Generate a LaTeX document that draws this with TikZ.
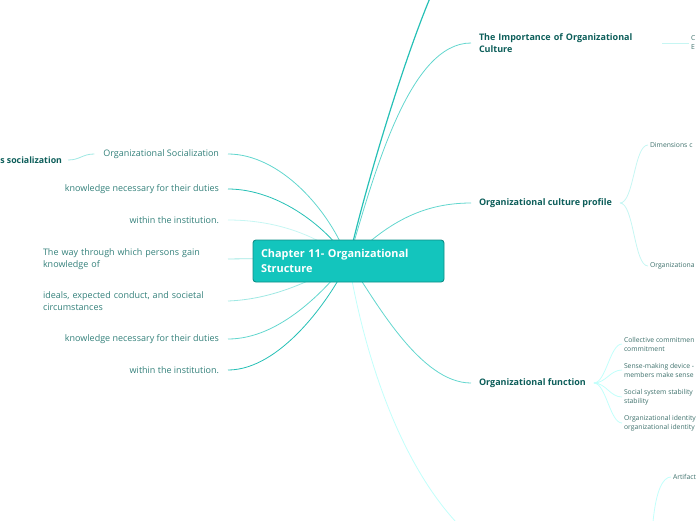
\documentclass[tikz,border=0pt]{standalone}
\usepackage{fontspec}
\setmainfont{Open Sans}
\usetikzlibrary{positioning}
\pgfdeclarelayer{bg}
\pgfsetlayers{bg,main}
\definecolor{hubfill}{HTML}{13C5BD}
\definecolor{hubline}{HTML}{0E8E87}
\definecolor{lbltext}{HTML}{33807A}
\definecolor{boldtext}{HTML}{0D5E5A}
\definecolor{smalltext}{HTML}{3D706B}
\definecolor{strong}{HTML}{26C0B6}
\definecolor{medium}{HTML}{62D6CE}
\definecolor{soft}{HTML}{9FE8E3}
\definecolor{faint}{HTML}{C6F6F3}
\definecolor{cyanfaint}{HTML}{C2FFFB}
\tikzset{
  hub/.style={draw=hubline, fill=hubfill, rounded corners=3pt, line width=0.9pt,
    minimum width=191pt, minimum height=42pt, text width=175pt, align=left,
    inner xsep=8pt, text=white, font=\fontsize{10.9}{15}\selectfont\bfseries},
  leftlbl/.style={anchor=east, inner sep=0pt, outer xsep=9pt, text=lbltext,
    font=\fontsize{9}{12}\selectfont},
  rightlbl/.style={anchor=west, inner sep=0pt, outer xsep=8pt, text=boldtext,
    font=\fontsize{9}{11.5}\selectfont\bfseries},
  small/.style={anchor=west, inner sep=0pt, outer xsep=2pt, text=smalltext,
    align=left, font=\fontsize{6.8}{9}\selectfont},
  branch/.style={line width=0.8pt},
}
\begin{document}
\begin{tikzpicture}[x=1pt,y=-1pt]
\useasboundingbox (0,0) rectangle (696,520);

% centre
\node[hub] (hub) at (348.5,261) {Chapter 11- Organizational\\Structure};

% left side
\node[leftlbl] (soc) at (228,154) {Organizational Socialization};
\node[leftlbl, outer xsep=6pt, text=boldtext, font=\fontsize{8.8}{11.5}\selectfont\bfseries] (ssoc) at (68,160) {s socialization};
\node[leftlbl] (know1) at (228,189) {knowledge necessary for their duties};
\node[leftlbl] (inst1) at (228,220) {within the institution.};
\node[leftlbl, text width=176pt, align=left] (way) at (228,259) {The way through which persons gain\\knowledge of};
\node[leftlbl, text width=176pt, align=left] (ideals) at (228,301) {ideals, expected conduct, and societal\\circumstances};
\node[leftlbl] (know2) at (228,339) {knowledge necessary for their duties};
\node[leftlbl] (inst2) at (228,370) {within the institution.};

% right side
\node[rightlbl, text width=175pt, align=left] (imp) at (471,43) {The Importance of Organizational\\Culture};
\node[small] (impsub) at (689,43) {C\\E};
\node[rightlbl] (prof) at (471,203) {Organizational culture profile};
\node[small] (dim) at (648,145) {Dimensions c};
\node[small] (orgp) at (648,266) {Organizationa};
\node[rightlbl] (func) at (471,383) {Organizational function};
\node[small] (f1) at (622,344) {Collective commitmen\\commitment};
\node[small] (f2) at (622,370) {Sense-making device -\\members make sense};
\node[small] (f3) at (622,397) {Social system stability\\stability};
\node[small] (f4) at (622,423) {Organizational identity\\organizational identity};
\node[small] (art) at (671,477) {Artifact};

\coordinate (topend) at (430,-2);
\coordinate (botend) at (456,522);
\coordinate (artend) at (653,522);

\begin{pgfonlayer}{bg}
% main branches
\draw[branch, strong, line width=1.2pt] (hub.center) .. controls (362,200) and (400,70) .. (topend);
\draw[branch, medium] (hub.center) .. controls (375,170) and (410,43) .. (imp.west);
\draw[branch, medium] (hub.center) .. controls (385,225) and (420,203) .. (prof.west);
\draw[branch, medium] (hub.center) .. controls (375,300) and (420,383) .. (func.west);
\draw[branch, cyanfaint] (hub.center) .. controls (360,330) and (390,450) .. (botend);
\draw[branch, medium] (soc.east) .. controls (280,154) and (330,210) .. (hub.center);
\draw[branch, strong] (know1.east) .. controls (280,189) and (330,230) .. (hub.center);
\draw[branch, faint] (inst1.east) .. controls (290,220) and (330,245) .. (hub.center);
\draw[branch, soft] (way.east) .. controls (280,258) and (320,261) .. (hub.center);
\draw[branch, soft] (ideals.east) .. controls (280,299) and (320,275) .. (hub.center);
\draw[branch, medium] (know2.east) .. controls (280,339) and (325,290) .. (hub.center);
\draw[branch, strong] (inst2.east) .. controls (280,370) and (330,300) .. (hub.center);
% sub branches
\draw[branch, soft] (soc.west) .. controls +(-12,0) and +(12,0) .. (ssoc.east);
\draw[branch, faint] (imp.east) -- (impsub.west);
\draw[branch, faint] (prof.east) .. controls +(14,0) and +(-14,0) .. (dim.west);
\draw[branch, faint] (prof.east) .. controls +(14,0) and +(-14,0) .. (orgp.west);
\foreach \kid in {f1,f2,f3,f4}
  \draw[branch, cyanfaint] (func.east) .. controls +(12,0) and +(-12,0) .. (\kid.west);
\draw[branch, cyanfaint] (artend) .. controls +(3,-32) and +(-8,0) .. (art.west);
\end{pgfonlayer}
\end{tikzpicture}
\end{document}
